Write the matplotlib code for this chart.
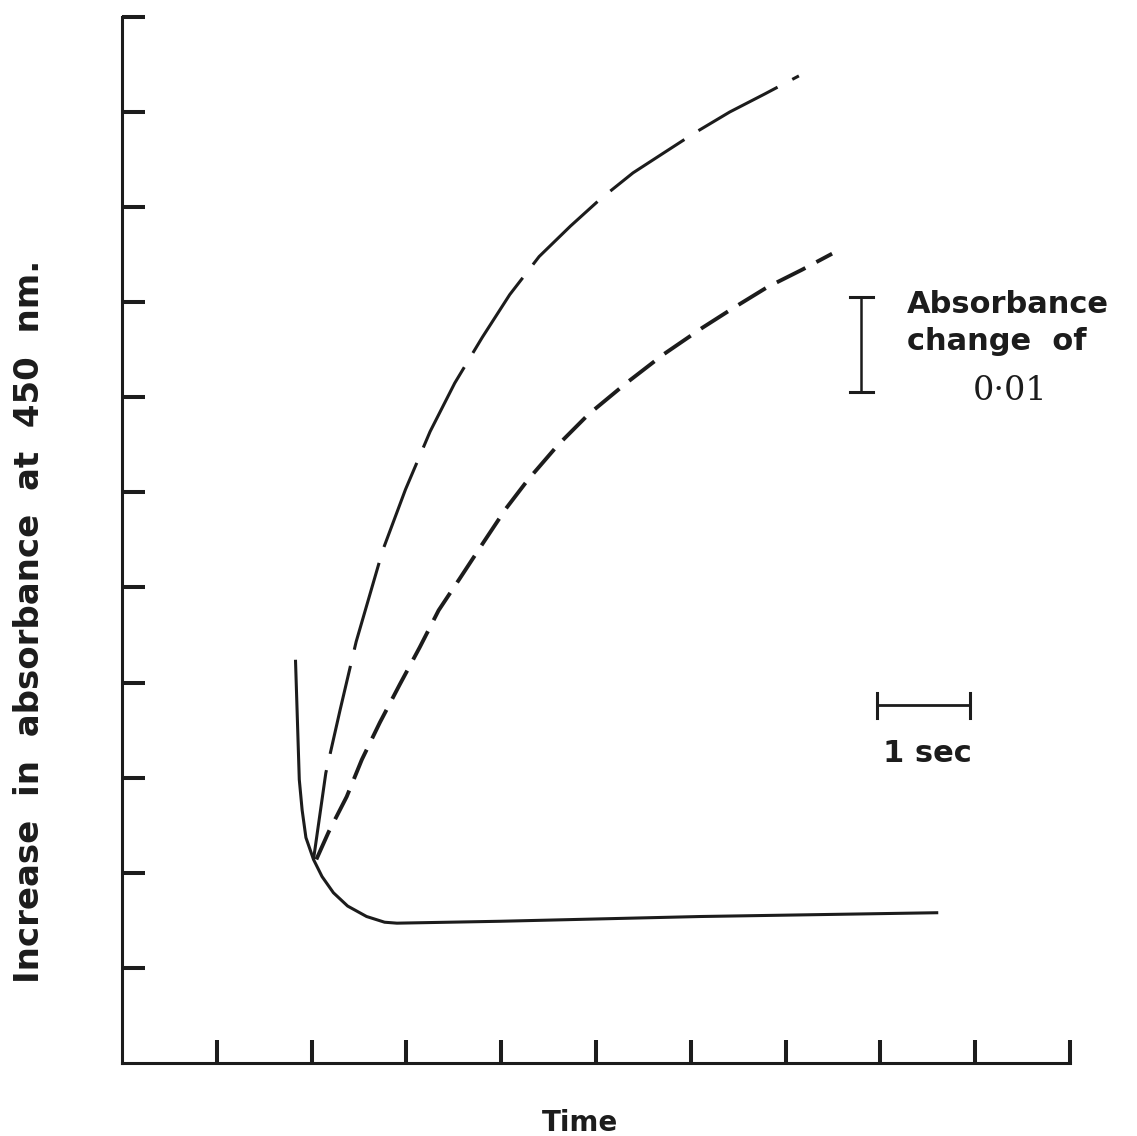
# Stopped-flow trace: absorbance increase at 450 nm against time,
# one decaying trace and two rising traces branching from it.

import matplotlib
matplotlib.use("Agg")
import matplotlib.pyplot as plt

plt.rcParams["lines.scale_dashes"] = False

INK = "#1c1c1c"

# Traces in axis units (one unit = one tick interval)
decay_x = [1.83, 1.85, 1.87, 1.90, 1.94, 2.02, 2.11, 2.23, 2.38, 2.58, 2.77, 2.90,
           3.99, 6.10, 8.61]
decay_y = [4.24, 3.61, 2.98, 2.66, 2.37, 2.14, 1.96, 1.79, 1.65, 1.54, 1.48, 1.47,
           1.49, 1.54, 1.58]

upper_x = [2.02, 2.15, 2.30, 2.47, 2.75, 2.99, 3.25, 3.51, 3.80, 4.09, 4.40, 4.73,
           5.04, 5.39, 5.73, 6.04, 6.41, 6.78, 7.14]
upper_y = [2.14, 3.05, 3.71, 4.43, 5.39, 6.03, 6.64, 7.15, 7.63, 8.08, 8.48, 8.80,
           9.08, 9.36, 9.58, 9.78, 10.00, 10.19, 10.38]

lower_x = [2.05, 2.18, 2.37, 2.53, 2.72, 2.93, 3.14, 3.34, 3.56, 3.81, 4.05, 4.28,
           4.60, 4.92, 5.32, 5.71, 6.12, 6.45, 6.81, 7.17, 7.49]
lower_y = [2.14, 2.43, 2.80, 3.19, 3.58, 3.98, 4.37, 4.76, 5.09, 5.47, 5.83, 6.13,
           6.50, 6.82, 7.15, 7.45, 7.73, 7.94, 8.16, 8.34, 8.51]

x_ticks = list(range(1, 11))
y_ticks = list(range(1, 12))

# Scale bars: 0.01 absorbance = one y unit, 1 sec = one x unit
abs_bar_x = 7.80
abs_bar_y = [7.06, 8.06]
sec_bar_x = [7.96, 8.94]
sec_bar_y = 3.76

fig = plt.figure(figsize=(11.37, 11.36), dpi=100)
ax = fig.add_axes([0.1073, 0.0643, 0.8338, 0.9208])

ax.plot(decay_x, decay_y, color=INK, lw=2.2, solid_capstyle="butt")
ax.plot(upper_x, upper_y, color=INK, lw=2.2, linestyle=(0, (65, 12)),
        dash_capstyle="butt")
ax.plot(lower_x, lower_y, color=INK, lw=2.8, linestyle=(0, (23, 9)),
        dash_capstyle="butt")

ax.set_xlim(0, 10)
ax.set_ylim(0, 11)
ax.set_xticks(x_ticks)
ax.set_yticks(y_ticks)
ax.tick_params(direction="in", length=16.5, width=2.9, color=INK,
               labelbottom=False, labelleft=False)
for side in ("top", "right"):
    ax.spines[side].set_visible(False)
for side in ("left", "bottom"):
    ax.spines[side].set_linewidth(2.2)
    ax.spines[side].set_color(INK)

# absorbance scale bar
cap = 0.12
ax.plot([abs_bar_x, abs_bar_x], abs_bar_y, color=INK, lw=1.8, clip_on=False)
for yb in abs_bar_y:
    ax.plot([abs_bar_x - cap, abs_bar_x + cap], [yb, yb], color=INK, lw=2.2,
            clip_on=False)
ax.text(8.28, 7.89, "Absorbance", fontsize=22, fontweight="bold", color=INK,
        ha="left", va="baseline")
ax.text(8.28, 7.50, "change  of", fontsize=22, fontweight="bold", color=INK,
        ha="left", va="baseline")
ax.text(9.37, 6.97, "0\u00b701", fontsize=24, family="DejaVu Serif", color=INK,
        ha="center", va="baseline")

# time scale bar
tcap = 0.13
ax.plot(sec_bar_x, [sec_bar_y, sec_bar_y], color=INK, lw=2.0, clip_on=False)
for xb in sec_bar_x:
    ax.plot([xb, xb], [sec_bar_y - tcap, sec_bar_y + tcap], color=INK, lw=2.2,
            clip_on=False)
ax.text(8.50, 3.17, "1 sec", fontsize=22, fontweight="bold", color=INK,
        ha="center", va="baseline")

fig.text(0.026, 0.453, "Increase  in  absorbance  at  450  nm.", rotation=90,
         fontsize=24.5, fontweight="bold", color=INK, ha="center", va="center")
fig.text(0.510, 0.004, "Time", fontsize=20, fontweight="bold", color=INK,
         ha="center", va="baseline")

fig.savefig("out.png", dpi=100, facecolor="white")
